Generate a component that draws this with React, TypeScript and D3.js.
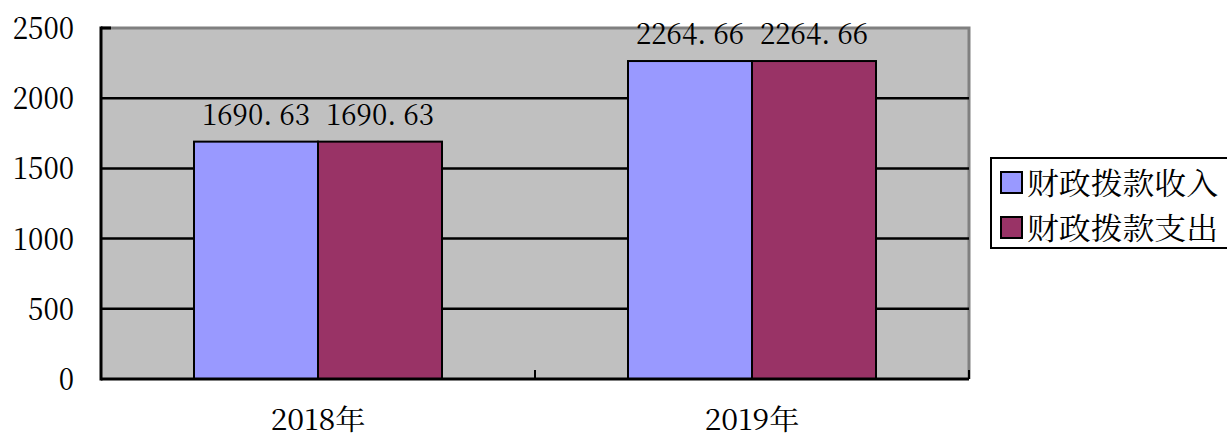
import React from "react";
import * as d3 from "d3";

const categories = ["2018年", "2019年"];
const seriesNames = ["财政拨款收入", "财政拨款支出"];
const incomeValues = [1690.63, 2264.66];
const spendValues = [1690.63, 2264.66];
const yTicks = [0, 500, 1000, 1500, 2000, 2500];
const colors = ["#9999FF", "#993366"];

const fmt = (v: number) => v.toFixed(2).replace(".", ". ");
const font = { fontFamily: "'Noto Serif CJK SC', 'Liberation Serif', serif" };

export default function App() {
  const width = 1227;
  const height = 439;
  const left = 101;
  const right = 969;
  const top = 28;
  const bottom = 379;

  const x = d3.scaleBand<string>().domain(categories).range([left, right]);
  const y = d3.scaleLinear().domain([0, 2500]).range([bottom, top]);
  const inner = d3
    .scaleBand<number>()
    .domain([0, 1])
    .range([0, x.bandwidth()])
    .paddingOuter(0.75)
    .paddingInner(0);

  const series = [incomeValues, spendValues];

  return (
    <svg
      width={width}
      height={height}
      style={{ position: "absolute", left: 0, top: 0, background: "#fff" }}
    >
      <rect x={left} y={top} width={right - left} height={bottom - top} fill="#C0C0C0" />
      {/* top and right plot border */}
      <path
        d={`M${left},${top}H${right}V${bottom}`}
        fill="none"
        stroke="#808080"
        strokeWidth={3}
      />
      {yTicks.slice(1, -1).map((t) => (
        <line key={t} x1={left} x2={right} y1={y(t)} y2={y(t)} stroke="#000" strokeWidth={2.5} />
      ))}
      <line x1={left} x2={left + 10} y1={y(2500)} y2={y(2500)} stroke="#000" strokeWidth={3} />

      {categories.map((c, i) =>
        series.map((s, k) => (
          <rect
            key={c + k}
            x={(x(c) as number) + (inner(k) as number)}
            y={y(s[i])}
            width={inner.bandwidth()}
            height={bottom - y(s[i])}
            fill={colors[k]}
            stroke="#000"
            strokeWidth={2}
          />
        ))
      )}

      {categories.map((c, i) =>
        series.map((s, k) => (
          <text
            key={"l" + c + k}
            x={(x(c) as number) + (inner(k) as number) + inner.bandwidth() / 2}
            y={y(s[i]) - 17}
            textAnchor="middle"
            fontSize={30}
            fill="#000"
            style={font}
            textLength={108}
            lengthAdjust="spacingAndGlyphs"
          >
            {fmt(s[i])}
          </text>
        ))
      )}

      {/* axes */}
      <line x1={left} x2={left} y1={top - 1.5} y2={bottom + 1.5} stroke="#000" strokeWidth={3} />
      <line x1={left} x2={right} y1={bottom} y2={bottom} stroke="#000" strokeWidth={3} />
      {[left, (x(categories[1]) as number), right].map((t, i) => (
        <line key={i} x1={t} x2={t} y1={bottom} y2={bottom - 9} stroke="#000" strokeWidth={2} />
      ))}

      {yTicks.map((t) => (
        <text
          key={t}
          x={74}
          y={y(t) + 11}
          textAnchor="end"
          fontSize={31}
          fill="#000"
          style={font}
          textLength={String(t).length * 15.3}
          lengthAdjust="spacingAndGlyphs"
        >
          {t}
        </text>
      ))}

      {categories.map((c) => (
        <text
          key={c}
          x={(x(c) as number) + x.bandwidth() / 2}
          y={430}
          textAnchor="middle"
          fontSize={28}
          fill="#000"
          style={font}
          textLength={95}
          lengthAdjust="spacingAndGlyphs"
        >
          {c}
        </text>
      ))}

      {/* legend */}
      <rect x={991} y={158} width={240} height={90} fill="#fff" stroke="#000" strokeWidth={2} />
      {seriesNames.map((n, k) => (
        <g key={n}>
          <rect
            x={1001}
            y={172 + k * 45}
            width={21}
            height={21}
            fill={colors[k]}
            stroke="#000"
            strokeWidth={2}
          />
          <text
            x={1027}
            y={183 + k * 45}
            dy="0.36em"
            fontSize={30}
            fill="#000"
            style={font}
            textLength={191}
            lengthAdjust="spacingAndGlyphs"
          >
            {n}
          </text>
        </g>
      ))}
    </svg>
  );
}
